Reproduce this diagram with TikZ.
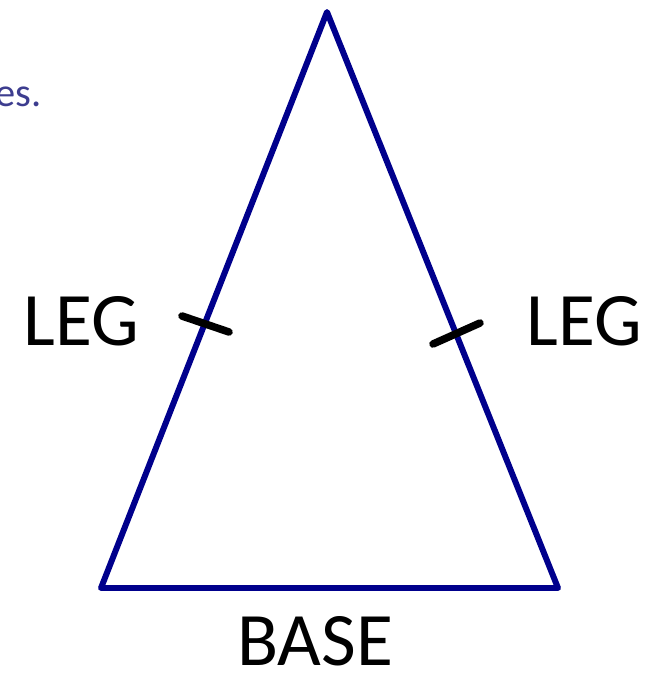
\documentclass[tikz,border=0pt]{standalone}
\usepackage{fontspec}
\setmainfont{Carlito}
\begin{document}
\begin{tikzpicture}[x=0.02cm, y=-0.02cm]
    \useasboundingbox (0,0) rectangle (658,674);
    \tikzset{
        side/.style={line width=3.4pt, blue!55!black, line join=round, line cap=round},
        tick/.style={line width=4.3pt, black, line cap=round},
        lbl/.style={font=\fontsize{43}{45}\selectfont, inner sep=0pt}
    }
    % fragment of cut-off text
    \node[font=\fontsize{23}{25}\selectfont, gray!60!blue!80!black, anchor=west, inner sep=0pt] (frag) at (-5,97) {es.};

    % triangle
    \coordinate (apex) at (327,12);
    \coordinate (bl) at (101,588);
    \coordinate (br) at (558,588);
    \draw[side] (apex) -- (bl) -- (br) -- cycle;

    % congruence ticks
    \coordinate (t1a) at (182,316);
    \coordinate (t1b) at (229,332);
    \coordinate (t2a) at (433,344);
    \coordinate (t2b) at (480,323);
    \draw[tick] (t1a) -- (t1b);
    \draw[tick] (t2a) -- (t2b);

    \node[lbl] (legL) at (81,321) {LEG};
    \node[lbl] (legR) at (584,321) {LEG};
    \node[lbl] (base) at (315,641) {BASE};
\end{tikzpicture}
\end{document}
